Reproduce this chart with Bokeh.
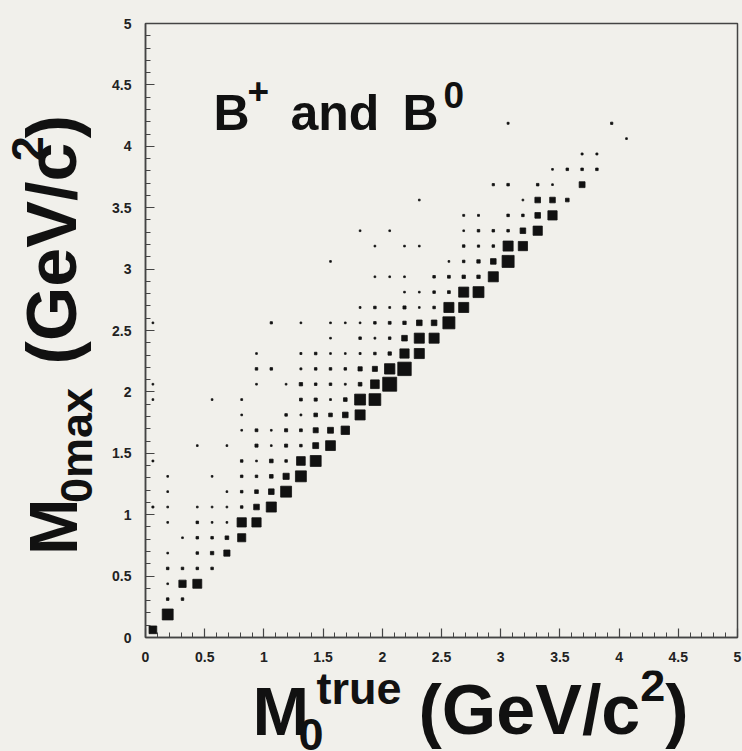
import math

from bokeh.embed import file_html
from bokeh.layouts import column, row
from bokeh.models import ColumnDataSource, FixedTicker, Label, Range1d
from bokeh.plotting import figure
from bokeh.resources import INLINE

# 40 x 40 histogram on [0, 5] x [0, 5]; only non-empty cells are listed.
BIN_WIDTH = 0.125

# x-bin index (M0 true), y-bin index (M0 max) and cell content
cell_ix = [
    0,                                  # y-bin 0
    1,                                  # 1
    1, 2,                               # 2
    1, 2, 3,                            # 3
    1, 2, 3, 4,                         # 4
    1, 3, 4, 5,                         # 5
    2, 3, 4, 5, 6,                      # 6
    1, 3, 4, 5, 6, 7,                   # 7
    0, 1, 3, 4, 5, 6, 7, 8,             # 8
    1, 5, 6, 7, 8, 9,                   # 9
    1, 4, 6, 7, 8, 9, 10,               # 10
    0, 6, 7, 8, 9, 10, 11,              # 11
    3, 5, 7, 8, 9, 10, 11, 12,          # 12
    6, 7, 8, 9, 10, 11, 12, 13,         # 13
    6, 9, 10, 11, 12, 13, 14,           # 14
    0, 4, 6, 10, 11, 12, 13, 14, 15,    # 15
    0, 7, 9, 10, 11, 12, 13, 14, 15, 16,   # 16
    7, 8, 10, 11, 12, 13, 14, 15, 16, 17,  # 17
    7, 10, 11, 12, 13, 14, 15, 16, 17, 18, # 18
    12, 14, 15, 16, 17, 18, 19,            # 19
    0, 8, 10, 12, 13, 14, 15, 16, 17, 18, 19, 20,  # 20
    14, 15, 16, 17, 18, 19, 20, 21,        # 21
    17, 18, 19, 20, 21, 22,                # 22
    15, 16, 17, 19, 20, 21, 22, 23,        # 23
    12, 20, 21, 22, 23, 24,                # 24
    15, 17, 18, 21, 22, 23, 24, 25,        # 25
    14, 16, 21, 22, 23, 24, 25, 26,        # 26
    21, 22, 24, 25, 26, 27,                # 27
    18, 25, 26, 27, 28,                    # 28
    23, 24, 26, 27, 29,                    # 29
    27, 28, 29, 30,                        # 30
    29, 30,                                # 31
    32,                                    # 32
    24, 31,                                # 33
]

cell_iy = (
    [0] * 1 + [1] * 1 + [2] * 2 + [3] * 3 + [4] * 4 + [5] * 4 + [6] * 5
    + [7] * 6 + [8] * 8 + [9] * 6 + [10] * 7 + [11] * 7 + [12] * 8
    + [13] * 8 + [14] * 7 + [15] * 9 + [16] * 10 + [17] * 10 + [18] * 10
    + [19] * 7 + [20] * 12 + [21] * 8 + [22] * 6 + [23] * 8 + [24] * 6
    + [25] * 8 + [26] * 8 + [27] * 6 + [28] * 5 + [29] * 5 + [30] * 4
    + [31] * 2 + [32] * 1 + [33] * 2
)

cell_n = [
    55,
    78,
    18, 18,
    12, 52, 64,
    18, 18, 18, 18,
    12, 18, 24, 44,
    12, 18, 18, 26, 58,
    12, 18, 12, 12, 66, 66,
    14, 12, 12, 12, 12, 18, 40, 72,
    12, 12, 18, 26, 40, 78,
    12, 12, 18, 18, 26, 44, 78,
    13, 18, 12, 26, 18, 62, 78,
    12, 12, 22, 12, 22, 18, 42, 70,
    12, 20, 12, 22, 20, 36, 42, 60,
    12, 18, 13, 26, 26, 40, 72,
    12, 12, 13, 20, 22, 13, 26, 78, 84,
    12, 12, 12, 24, 18, 18, 13, 26, 62, 100,
    18, 18, 14, 18, 18, 18, 30, 36, 74, 96,
    12, 14, 18, 12, 12, 14, 18, 24, 66, 72,
    12, 18, 13, 18, 40, 72, 72,
    12, 16, 12, 12, 12, 12, 18, 20, 24, 40, 40, 86,
    13, 18, 13, 22, 12, 18, 72, 72,
    12, 12, 18, 20, 72, 78,
    12, 12, 12, 18, 20, 24, 24, 72,
    12, 12, 18, 24, 40, 86,
    12, 12, 12, 18, 16, 18, 72, 66,
    12, 12, 12, 18, 18, 18, 40, 66,
    14, 14, 18, 18, 40, 66,
    12, 12, 40, 40, 26,
    16, 18, 18, 12, 42,
    12, 18, 18, 18,
    14, 14,
    12,
    14, 16,
]

x_tick_values = [0, 0.5, 1, 1.5, 2, 2.5, 3, 3.5, 4, 4.5, 5]
x_tick_labels = ["0", "0.5", "1", "1.5", "2", "2.5", "3", "3.5", "4", "4.5", "5"]
y_tick_values = x_tick_values
y_tick_labels = x_tick_labels
minor_tick_values = [k / 10 for k in range(51)]

# page geometry: a title strip on the left, the histogram, a title strip below
PAGE_W, PAGE_H = 742, 751
YTITLE_W = 100
XTITLE_H = 81
PLOT_W, PLOT_H = PAGE_W - YTITLE_W, PAGE_H - XTITLE_H
FRAME_LEFT_PAD, FRAME_TOP_PAD, FRAME_RIGHT_PAD, FRAME_BOTTOM_PAD = 45, 23, 5, 33
MAX_BOX_PX = 14.0

BG = "#f1f0eb"
INK = "#111111"
AXIS = "#444444"
FONT = "Liberation Sans"
# text anchors sit this fraction of the font size above the drawn baseline
BASELINE_LIFT = 0.36

n_max = max(cell_n)
source = ColumnDataSource(dict(
    x=[(i + 0.5) * BIN_WIDTH for i in cell_ix],
    y=[(j + 0.5) * BIN_WIDTH for j in cell_iy],
    n=cell_n,
    size=[MAX_BOX_PX * n / n_max for n in cell_n],
))

bg_style = {"background-color": BG}

p = figure(
    width=PLOT_W, height=PLOT_H,
    x_range=Range1d(0, 5), y_range=Range1d(0, 5),
    output_backend="svg", toolbar_location=None,
    min_border_left=FRAME_LEFT_PAD, min_border_top=FRAME_TOP_PAD,
    min_border_right=FRAME_RIGHT_PAD, min_border_bottom=FRAME_BOTTOM_PAD,
    styles=bg_style,
)
p.background_fill_color = BG
p.border_fill_color = BG
p.outline_line_color = AXIS
p.outline_line_width = 1.5
p.grid.visible = False

p.scatter("x", "y", source=source, marker="square", size="size",
          fill_color=INK, line_color=INK, line_width=0.8)

for ax, ticks, labels in ((p.xaxis[0], x_tick_values, x_tick_labels),
                          (p.yaxis[0], y_tick_values, y_tick_labels)):
    ax.ticker = FixedTicker(ticks=ticks, minor_ticks=minor_tick_values)
    ax.major_label_overrides = {t: s for t, s in zip(ticks, labels)}
    ax.axis_line_color = AXIS
    ax.axis_line_width = 1.5
    ax.major_tick_line_color = AXIS
    ax.minor_tick_line_color = AXIS
    ax.major_tick_line_width = 1.2
    ax.minor_tick_line_width = 1.0
    ax.major_tick_in = 9
    ax.major_tick_out = 0
    ax.minor_tick_in = 5
    ax.minor_tick_out = 0
    ax.major_label_text_font = FONT
    ax.major_label_text_font_style = "bold"
    ax.major_label_text_font_size = "14px"
    ax.major_label_text_color = "#222222"

p.xaxis.major_label_standoff = 14
p.yaxis.major_label_standoff = 14

# Arial/Liberation Sans Bold advance widths (per em)
ADV = {"M": .833, "0": .556, "t": .333, "r": .389, "u": .611, "e": .556,
       " ": .278, "(": .333, "G": .778, "V": .667, "/": .278, "c": .556,
       "2": .556, ")": .333, "m": .889, "a": .556, "x": .556, "B": .722,
       "+": .584, "n": .611, "d": .611}


def run_layout(pieces, x0, y0, vertical=False):
    """Place (text, px size, baseline raise, start) pieces along a run.

    start is the distance from the run origin, or None to follow the previous
    piece. Coordinates are pixels with y pointing up."""
    out = []
    pos = 0.0
    for text, size, shift, start in pieces:
        if start is not None:
            pos = start
        lift = shift + BASELINE_LIFT * size
        if vertical:
            out.append((x0 - lift, y0 + pos, text, size, math.pi / 2))
        else:
            out.append((x0 + pos, y0 + lift, text, size, 0.0))
        pos += sum(ADV[c] for c in text) * size
    return out


def add_labels(fig, placed, units="screen"):
    for x, y, text, size, angle in placed:
        fig.add_layout(Label(
            x=x, y=y, x_units=units, y_units=units, text=text, angle=angle,
            text_font=FONT, text_font_style="bold", text_font_size=f"{size}px",
            text_color=INK, text_align="left", text_baseline="alphabetic"))


def title_strip(width, height, placed):
    f = figure(width=width, height=height, x_range=Range1d(0, width),
               y_range=Range1d(0, height), output_backend="svg",
               toolbar_location=None, x_axis_location=None, y_axis_location=None,
               min_border=0, styles=bg_style)
    f.background_fill_color = BG
    f.border_fill_color = BG
    f.outline_line_color = None
    f.grid.visible = False
    add_labels(f, placed, units="data")
    return f


BIG, SMALL = 68, 45

# x axis title: M0^true (GeV/c^2); baseline 16 px above the page bottom
x_title = title_strip(PAGE_W, XTITLE_H, run_layout(
    [("M", BIG, 0, 0), ("0", SMALL, -15, 46), ("true", SMALL, 31, 64),
     ("(GeV/c", 70, 0, 166), ("2", SMALL, 34, None), (")", 70, 0, None)],
    252, 16))

# y axis title: M0max  (GeV/c^2), read bottom to top
y_title = title_strip(YTITLE_W, PLOT_H, run_layout(
    [("M", BIG, 0, 0), ("0max", SMALL, -15, None),
     ("(GeV/c", 70, 0, 208), ("2", SMALL, 34, None), (")", 70, 0, None)],
    77, PLOT_H - 580, vertical=True))

# caption inside the frame; positions are measured from the frame's left edge
add_labels(p, run_layout([("B", 50, 0, 68), ("+", 37, 26, 102), ("and", 50, 0, 145),
                          ("B", 50, 0, 257), ("0", 37, 22, 298)], 0, 637 - 130))

page = column(row(y_title, p, spacing=0, styles=bg_style), x_title,
              spacing=0, styles=bg_style)

open("out.html", "w").write(file_html(page, INLINE))
